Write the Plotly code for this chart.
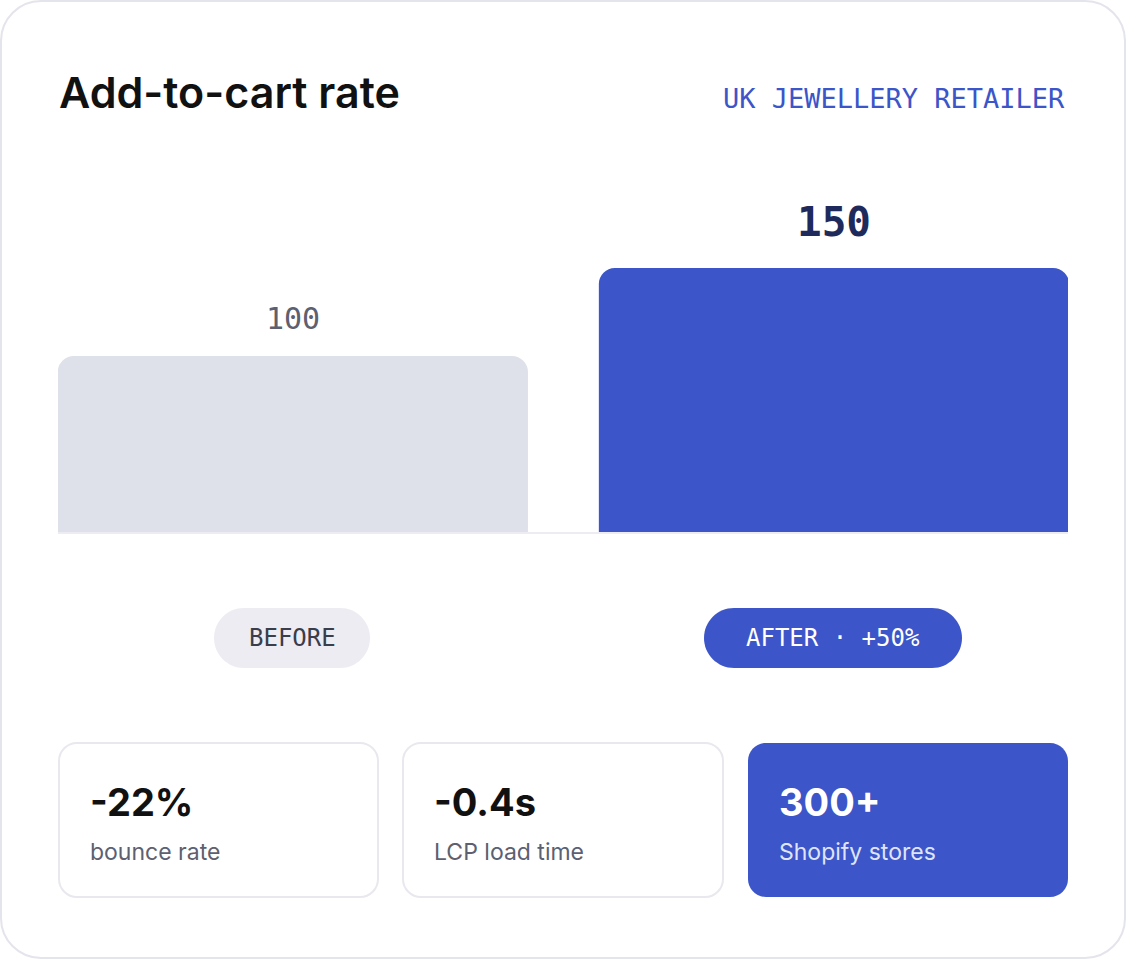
import plotly.graph_objects as go

W, H = 1126, 960

# data
categories = ["Before", "After"]
values = [100, 150]
pill_labels = ["BEFORE", "AFTER · +50%"]
stat_values = ["-22%", "-0.4s", "300+"]
stat_labels = ["bounce rate", "LCP load time", "Shopify stores"]

title = "Add-to-cart rate"
subtitle = "UK JEWELLERY RETAILER"

BLUE = "#3c55c8"
GREY_BAR = "#dfe1ea"
INK = "#111111"
MUTED = "#5c6070"
SANS = "Inter, 'Open Sans', sans-serif"
MONO = "'DejaVu Sans Mono', 'Liberation Mono', monospace"

# plot area in pixels
L, R, T, B = 58, 58, 180, 428
PW, PH = W - L - R, H - T - B


def px(x):
    return (x - L) / PW


def py(y):
    return (H - B - y) / PH


def rounded_rect(x0, y0, x1, y1, r):
    # pixel box -> svg path in paper coords
    k = 0.5523 * r
    pts = [
        ("M", [(x0 + r, y0)]),
        ("L", [(x1 - r, y0)]),
        ("C", [(x1 - r + k, y0), (x1, y0 + r - k), (x1, y0 + r)]),
        ("L", [(x1, y1 - r)]),
        ("C", [(x1, y1 - r + k), (x1 - r + k, y1), (x1 - r, y1)]),
        ("L", [(x0 + r, y1)]),
        ("C", [(x0 + r - k, y1), (x0, y1 - r + k), (x0, y1 - r)]),
        ("L", [(x0, y0 + r)]),
        ("C", [(x0, y0 + r - k), (x0 + r - k, y0), (x0 + r, y0)]),
    ]
    s = ""
    for cmd, ps in pts:
        s += cmd + " " + " ".join("%.5f,%.5f" % (px(a), py(b)) for a, b in ps) + " "
    return s + "Z"


fig = go.Figure()
fig.add_trace(go.Bar(
    x=categories, y=values, width=0.869,
    marker=dict(color=[GREY_BAR, BLUE], cornerradius=16, line=dict(width=0)),
    hoverinfo="skip",
))

shapes = []
annotations = []

# outer card
shapes.append(dict(type="path", xref="paper", yref="paper", layer="below",
                   path=rounded_rect(1, 1, W - 1, H - 2, 40),
                   fillcolor="white", line=dict(color="#e4e4ec", width=2)))

# value labels above bars
annotations.append(dict(x=categories[0], y=values[0], xref="x", yref="y",
                        text=str(values[0]), showarrow=False, yanchor="bottom", yshift=18,
                        font=dict(family=MONO, size=30, color=MUTED)))
annotations.append(dict(x=categories[1], y=values[1], xref="x", yref="y",
                        text=str(values[1]), showarrow=False, yanchor="bottom", yshift=20,
                        font=dict(family=MONO, size=41, color="#1f2a5c", weight=600)))

# title + subtitle
annotations.append(dict(x=px(57), y=py(92), xref="paper", yref="paper", text=title,
                        showarrow=False, xanchor="left", yanchor="middle",
                        font=dict(family=SANS, size=43, color=INK, weight=600)))
annotations.append(dict(x=px(1067), y=py(98), xref="paper", yref="paper", text=subtitle,
                        showarrow=False, xanchor="right", yanchor="middle",
                        font=dict(family=MONO, size=27, color=BLUE)))

# pills under bars
pill_boxes = [(214, 370), (704, 962)]
pill_fill = ["#ececf2", BLUE]
pill_text = ["#3a3d4a", "white"]
for lab, (a, b), fc, tc in zip(pill_labels, pill_boxes, pill_fill, pill_text):
    shapes.append(dict(type="path", xref="paper", yref="paper",
                       path=rounded_rect(a, 608, b, 668, 30),
                       fillcolor=fc, line=dict(width=0)))
    annotations.append(dict(x=px((a + b) / 2), y=py(638), xref="paper", yref="paper",
                            text=lab, showarrow=False, xanchor="center", yanchor="middle",
                            font=dict(family=MONO, size=24, color=tc, weight=500)))

# stat cards
card_boxes = [(59, 378), (403, 723), (748, 1068)]
for i, (sv, sl, (a, b)) in enumerate(zip(stat_values, stat_labels, card_boxes)):
    hl = i == 2
    shapes.append(dict(type="path", xref="paper", yref="paper",
                       path=rounded_rect(a, 743, b, 897, 18),
                       fillcolor=BLUE if hl else "white",
                       line=dict(color=BLUE if hl else "#e8e8ee", width=0 if hl else 2)))
    annotations.append(dict(x=px(a + 29), y=py(802), xref="paper", yref="paper", text=sv,
                            showarrow=False, xanchor="left", yanchor="middle",
                            font=dict(family=SANS, size=38, color="white" if hl else INK, weight=700)))
    annotations.append(dict(x=px(a + 29), y=py(852), xref="paper", yref="paper", text=sl,
                            showarrow=False, xanchor="left", yanchor="middle",
                            font=dict(family=SANS, size=23, color="#dfe4fb" if hl else MUTED)))

fig.update_layout(
    width=W, height=H,
    margin=dict(l=L, r=R, t=T, b=B),
    paper_bgcolor="white", plot_bgcolor="rgba(0,0,0,0)",
    showlegend=False,
    shapes=shapes, annotations=annotations,
    xaxis=dict(range=[-0.434, 1.4325], showticklabels=False, showgrid=False, zeroline=False,
               showline=True, linecolor="#ececf2", linewidth=2, ticks="", fixedrange=True),
    yaxis=dict(range=[0, 200], showticklabels=False, showgrid=False, zeroline=False,
               showline=False, ticks="", fixedrange=True),
)

fig.write_html("out.html", config={"displayModeBar": False},
               post_script="document.body.style.margin='0';document.body.style.overflow='hidden';")
